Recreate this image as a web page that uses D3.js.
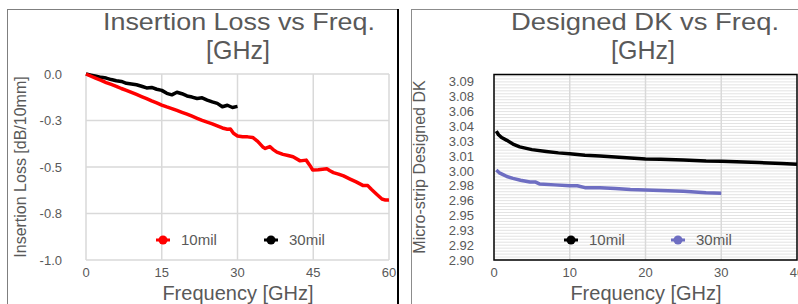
<!DOCTYPE html>
<html>
<head>
<meta charset="utf-8">
<script src="https://cdn.jsdelivr.net/npm/d3@7"></script>
<style>
  body { margin: 0; background: #fff; }
  svg text { font-family: Arial, "Liberation Sans", sans-serif; fill: #595959; }
</style>
</head>
<body>
<svg id="chart" width="798" height="304"></svg>
<script>
// ---- data ----
// insertion loss [dB/10mm] vs frequency [GHz]
var lossFreq10 = [0, 1, 2, 3, 4, 5, 6, 7, 8, 9, 10, 11, 12, 13, 14, 15, 16, 17, 18, 19, 20, 21, 22, 23, 24, 25, 26, 27, 28, 28.6, 29.2, 30, 31, 32, 33, 34, 35, 35.5, 36.4, 37, 37.8, 39, 40, 41, 42.4, 43.6, 44.3, 44.9, 46, 47.7, 48.3, 49, 50, 51, 52.3, 53.5, 54.9, 55.8, 56.5, 57.5, 58.6, 59.3, 60];
var loss10mil = [0, -0.012, -0.024, -0.034, -0.046, -0.056, -0.066, -0.078, -0.088, -0.099, -0.110, -0.121, -0.132, -0.144, -0.155, -0.167, -0.177, -0.186, -0.196, -0.206, -0.216, -0.227, -0.238, -0.249, -0.259, -0.268, -0.279, -0.290, -0.297, -0.296, -0.319, -0.333, -0.337, -0.338, -0.341, -0.362, -0.392, -0.400, -0.390, -0.405, -0.420, -0.432, -0.438, -0.445, -0.467, -0.463, -0.490, -0.516, -0.515, -0.510, -0.520, -0.530, -0.538, -0.548, -0.565, -0.580, -0.600, -0.600, -0.620, -0.645, -0.672, -0.678, -0.677];
var lossFreq30 = [0, 1, 2, 3, 4, 5, 6, 7, 8, 9, 10, 11, 12, 13, 14, 15, 16, 17, 18, 19, 20, 21, 22, 23, 24, 25, 26, 27, 28, 29, 30];
var loss30mil = [0, -0.006, -0.012, -0.018, -0.022, -0.030, -0.036, -0.040, -0.050, -0.054, -0.058, -0.066, -0.075, -0.072, -0.082, -0.088, -0.104, -0.112, -0.098, -0.106, -0.118, -0.124, -0.132, -0.128, -0.140, -0.150, -0.158, -0.176, -0.168, -0.180, -0.174];
var lossXTicks = [0, 15, 30, 45, 60];
var lossYTicks = [0, -0.25, -0.5, -0.75, -1];

// designed DK vs frequency [GHz]
var dkFreq10 = [0.3, 0.6, 1, 1.7, 2.5, 3.4, 5, 6.9, 8.5, 10, 12, 14, 16, 18, 20, 22, 25, 28, 30, 32, 35, 38, 40];
var dk10mil = [3.039, 3.035, 3.032, 3.029, 3.025, 3.022, 3.019, 3.017, 3.0155, 3.0145, 3.013, 3.012, 3.011, 3.010, 3.009, 3.0085, 3.0078, 3.0068, 3.0065, 3.006, 3.005, 3.004, 3.0033];
var dkFreq30 = [0.3, 0.7, 1.2, 1.7, 2.5, 3.5, 4.75, 5.5, 6, 8, 10, 11, 12, 14, 16, 18, 20, 22, 25, 28, 30];
var dk30mil = [2.997, 2.994, 2.992, 2.990, 2.988, 2.986, 2.984, 2.984, 2.982, 2.981, 2.980, 2.980, 2.978, 2.978, 2.977, 2.976, 2.9755, 2.975, 2.974, 2.9725, 2.972];
var dkXTicks = [0, 10, 20, 30, 40];
var dkYTicks = [2.900, 2.916, 2.932, 2.948, 2.964, 2.980, 2.996, 3.012, 3.028, 3.044, 3.060, 3.076, 3.092];
var dkYLabels = ["2.90", "2.92", "2.93", "2.95", "2.96", "2.98", "3.00", "3.01", "3.03", "3.04", "3.06", "3.08", "3.09"];

var svg = d3.select("#chart");

function pairs(xs, ys) {
  return xs.map(function (x, i) { return [x, ys[i]]; });
}

// ---- frames ----
svg.append("rect").attr("x", 7.5).attr("y", 9.5).attr("width", 390).attr("height", 400)
  .attr("fill", "none").attr("stroke", "#7f7f7f");
svg.append("line").attr("x1", 398).attr("x2", 398).attr("y1", 9).attr("y2", 304)
  .attr("stroke", "#000").attr("stroke-width", 2);
svg.append("rect").attr("x", 411.5).attr("y", 9.5).attr("width", 400).attr("height", 400)
  .attr("fill", "none").attr("stroke", "#8c8c8c");

// ---- left chart: insertion loss ----
var lx = d3.scaleLinear().domain([0, 60]).range([86, 389]);
var ly = d3.scaleLinear().domain([-1, 0]).range([260, 74]);
var left = svg.append("g");

left.selectAll(".hgrid").data(lossYTicks).enter().append("line")
  .attr("x1", lx(0)).attr("x2", lx(60))
  .attr("y1", function (d) { return ly(d); }).attr("y2", function (d) { return ly(d); })
  .attr("stroke", "#d9d9d9").attr("stroke-width", 1.5);
left.selectAll(".vgrid").data(lossXTicks).enter().append("line")
  .attr("x1", function (d) { return lx(d); }).attr("x2", function (d) { return lx(d); })
  .attr("y1", ly(0)).attr("y2", ly(-1))
  .attr("stroke", "#d9d9d9").attr("stroke-width", 1.5);

left.selectAll(".ylab").data(lossYTicks).enter().append("text")
  .attr("x", 62).attr("y", function (d) { return ly(d); }).attr("dy", "0.35em")
  .attr("text-anchor", "end").style("font-size", "13px")
  .text(function (d) { return d.toFixed(1); });
left.selectAll(".xlab").data(lossXTicks).enter().append("text")
  .attr("x", function (d) { return lx(d); }).attr("y", 277)
  .attr("text-anchor", "middle").style("font-size", "13px")
  .text(function (d) { return d; });

var lossLine = d3.line()
  .x(function (d) { return lx(d[0]); })
  .y(function (d) { return ly(d[1]); });
left.append("path").datum(pairs(lossFreq30, loss30mil)).attr("d", lossLine)
  .attr("fill", "none").attr("stroke", "#000").attr("stroke-width", 3.5).attr("stroke-linejoin", "round");
left.append("path").datum(pairs(lossFreq10, loss10mil)).attr("d", lossLine)
  .attr("fill", "none").attr("stroke", "#ff0000").attr("stroke-width", 3.5).attr("stroke-linejoin", "round");

// titles
left.append("text").attr("x", 239).attr("y", 30).attr("text-anchor", "middle")
  .attr("textLength", 272).attr("lengthAdjust", "spacingAndGlyphs")
  .style("font-size", "24px").text("Insertion Loss vs Freq.");
left.append("text").attr("x", 238).attr("y", 59).attr("text-anchor", "middle")
  .style("font-size", "25px").text("[GHz]");
left.append("text").attr("x", 238).attr("y", 300).attr("text-anchor", "middle")
  .style("font-size", "20px").text("Frequency [GHz]");
left.append("text").attr("transform", "translate(26,167) rotate(-90)").attr("text-anchor", "middle")
  .style("font-size", "16px").text("Insertion Loss [dB/10mm]");

// ---- right chart: designed DK ----
var rx = d3.scaleLinear().domain([0, 40]).range([494, 797]);
var ry = d3.scaleLinear().domain([2.9, 3.1]).range([260, 74.5]);
var right = svg.append("g");

// dense minor gridlines
var minor = d3.range(0, 63).map(function (i) { return 2.9 + i * 0.0032; });
right.selectAll(".minor").data(minor).enter().append("line")
  .attr("x1", rx(0)).attr("x2", rx(40))
  .attr("y1", function (d) { return ry(d); }).attr("y2", function (d) { return ry(d); })
  .attr("stroke", "#e3e3e3").attr("stroke-width", 1);
right.selectAll(".vgrid").data(dkXTicks.slice(1, 4)).enter().append("line")
  .attr("x1", function (d) { return rx(d); }).attr("x2", function (d) { return rx(d); })
  .attr("y1", ry(3.1)).attr("y2", ry(2.9))
  .attr("stroke", "#d9d9d9").attr("stroke-width", 1.5);
right.append("rect").attr("x", rx(0)).attr("y", ry(3.1))
  .attr("width", rx(40) - rx(0)).attr("height", ry(2.9) - ry(3.1))
  .attr("fill", "none").attr("stroke", "#000").attr("stroke-width", 1.5);

right.selectAll(".ylab").data(dkYTicks).enter().append("text")
  .attr("x", 474).attr("y", function (d) { return ry(d); }).attr("dy", "0.35em")
  .attr("text-anchor", "end").style("font-size", "13px")
  .text(function (d, i) { return dkYLabels[i]; });
right.selectAll(".xlab").data(dkXTicks).enter().append("text")
  .attr("x", function (d) { return rx(d); }).attr("y", 277)
  .attr("text-anchor", "middle").style("font-size", "13px")
  .text(function (d) { return d; });

var dkLine = d3.line()
  .x(function (d) { return rx(d[0]); })
  .y(function (d) { return ry(d[1]); });
right.append("path").datum(pairs(dkFreq30, dk30mil)).attr("d", dkLine)
  .attr("fill", "none").attr("stroke", "#6e6ec2").attr("stroke-width", 3.5).attr("stroke-linejoin", "round");
right.append("path").datum(pairs(dkFreq10, dk10mil)).attr("d", dkLine)
  .attr("fill", "none").attr("stroke", "#000").attr("stroke-width", 3.5).attr("stroke-linejoin", "round");

right.append("text").attr("x", 645).attr("y", 30).attr("text-anchor", "middle")
  .attr("textLength", 268).attr("lengthAdjust", "spacingAndGlyphs")
  .style("font-size", "24px").text("Designed DK vs Freq.");
right.append("text").attr("x", 643).attr("y", 59).attr("text-anchor", "middle")
  .style("font-size", "25px").text("[GHz]");
right.append("text").attr("x", 646).attr("y", 300).attr("text-anchor", "middle")
  .style("font-size", "20px").text("Frequency [GHz]");
right.append("text").attr("transform", "translate(425,167) rotate(-90)").attr("text-anchor", "middle")
  .style("font-size", "16px").text("Micro-strip Designed DK");

// ---- legends ----
var legends = [
  { x: 163, color: "#ff0000", label: "10mil" },
  { x: 271, color: "#000", label: "30mil" },
  { x: 571, color: "#000", label: "10mil" },
  { x: 678, color: "#6e6ec2", label: "30mil" }
];
var lg = svg.selectAll(".legend").data(legends).enter().append("g")
  .attr("transform", function (d) { return "translate(" + d.x + ",240)"; });
lg.append("line").attr("x1", -7).attr("x2", 7)
  .attr("stroke", function (d) { return d.color; }).attr("stroke-width", 3);
lg.append("circle").attr("r", 4.5).attr("fill", function (d) { return d.color; });
lg.append("text").attr("x", 18).attr("dy", "0.35em").style("font-size", "15px")
  .text(function (d) { return d.label; });
</script>
</body>
</html>
